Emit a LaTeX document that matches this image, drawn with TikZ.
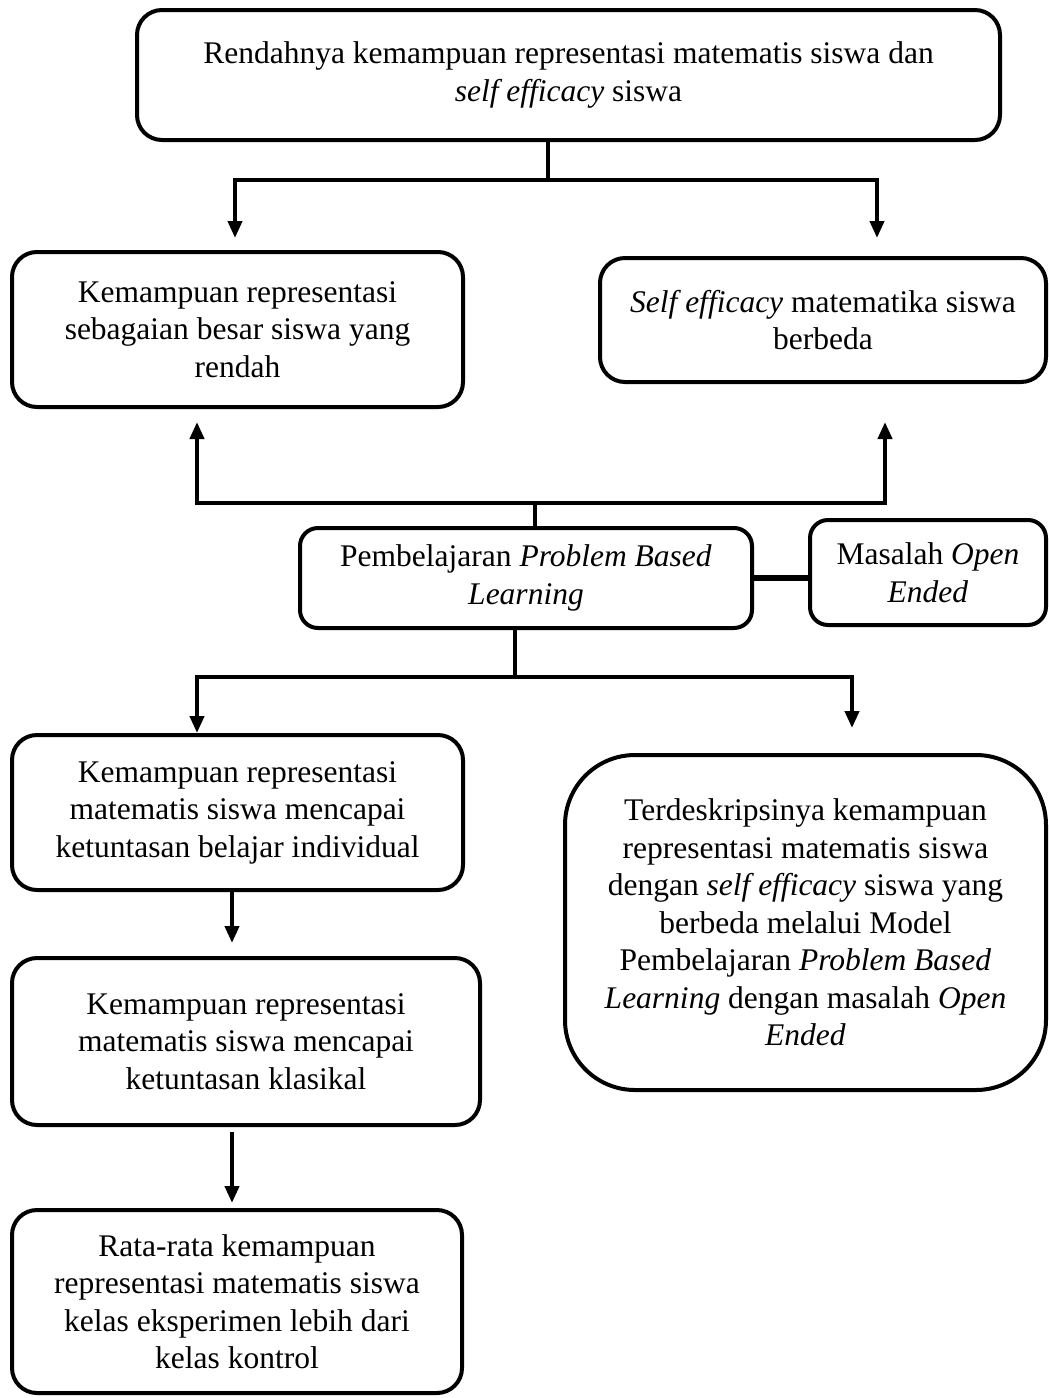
\documentclass[tikz,border=0pt]{standalone}
\usepackage{fontspec}
\setmainfont{Liberation Serif}
\usetikzlibrary{arrows.meta, positioning, calc}

\begin{document}
\begin{tikzpicture}[
        x=1pt, y=-1pt,
        kotak/.style={draw, rectangle, line width=4pt, rounded corners=25pt, align=center, inner sep=0pt, font=\fontsize{31.5}{37.5}\selectfont},
        garis/.style={line width=4pt},
        panah/.style={line width=4pt, -{Triangle[length=17pt,width=14pt]}}
    ]
        \useasboundingbox (0,0) rectangle (1049,1398);

        % Boxes
        \node (atas) [kotak, minimum width=863pt, minimum height=130pt] at (568.5,75)
            {Rendahnya kemampuan representasi matematis siswa dan\\ \textit{self efficacy} siswa};

        \node (repkiri) [kotak, minimum width=451pt, minimum height=155pt] at (237.5,329.5)
            {Kemampuan representasi\\ sebagaian besar siswa yang\\ rendah};
        \node (sekanan) [kotak, minimum width=446pt, minimum height=124pt] at (823,320)
            {\textit{Self efficacy} matematika siswa\\ berbeda};

        \node (pbl) [kotak, rounded corners=18pt, minimum width=452pt, minimum height=100pt] at (526,578)
            {Pembelajaran \textit{Problem Based}\\ \textit{Learning}};
        \node (oe) [kotak, rounded corners=18pt, minimum width=236pt, minimum height=105pt] at (928,572.5)
            {Masalah \textit{Open}\\ \textit{Ended}};

        \node (indiv) [kotak, minimum width=451pt, minimum height=155pt] at (237.5,812.5)
            {Kemampuan representasi\\ matematis siswa mencapai\\ ketuntasan belajar individual};
        \node (hasil) [kotak, rounded corners=70pt, minimum width=481pt, minimum height=335pt] at (805.5,922.5)
            {Terdeskripsinya kemampuan\\ representasi matematis siswa\\ dengan \textit{self efficacy} siswa yang\\ berbeda melalui Model\\ Pembelajaran \textit{Problem Based}\\ \textit{Learning} dengan masalah \textit{Open}\\ \textit{Ended}};

        \node (klasik) [kotak, minimum width=468pt, minimum height=167pt] at (246,1041.5)
            {Kemampuan representasi\\ matematis siswa mencapai\\ ketuntasan klasikal};
        \node (rata) [kotak, minimum width=450pt, minimum height=183pt] at (237,1301.5)
            {Rata-rata kemampuan\\ representasi matematis siswa\\ kelas eksperimen lebih dari\\ kelas kontrol};

        % Wires
        \draw[garis] ([xshift=-20.5pt]atas.south) -- ++(0,38) coordinate (cab1);
        \draw[panah, shorten >=12pt] (cab1) -| ([xshift=-2.5pt]repkiri.north);
        \draw[panah, shorten >=18pt] (cab1) -| ([xshift=54pt]sekanan.north);

        \draw[garis] ([xshift=9pt]pbl.north) -- ++(0,-23) coordinate (cab2);
        \draw[panah, shorten >=13pt] (cab2) -| ([xshift=-40.5pt]repkiri.south);
        \draw[panah, shorten >=38pt] (cab2) -| ([xshift=62pt]sekanan.south);

        \draw[line width=6pt] (pbl.east) -- (pbl.east -| oe.west);

        \draw[garis] ([xshift=-11pt]pbl.south) -- ++(0,47) coordinate (cab3);
        \draw[panah] (cab3) -| ([xshift=-40.5pt]indiv.north);
        \draw[panah, shorten >=25pt] (cab3) -| ([xshift=46.5pt]hasil.north);

        \draw[panah, shorten >=13pt] ([xshift=-5.5pt]indiv.south) coordinate (tur1) -- (tur1 |- klasik.north);
        \draw[panah, shorten <=5pt, shorten >=5pt] ([xshift=-14pt]klasik.south) coordinate (tur2) -- (tur2 |- rata.north);

    \end{tikzpicture}
\end{document}
